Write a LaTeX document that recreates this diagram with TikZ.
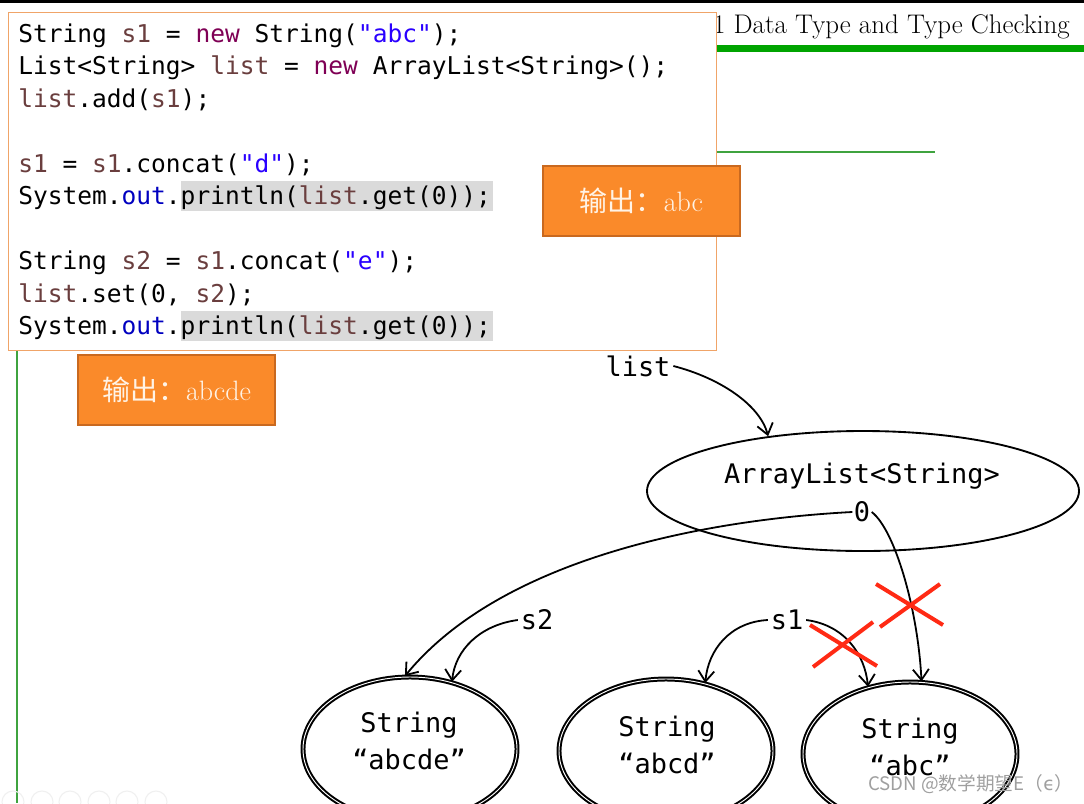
\documentclass[tikz,border=0pt]{standalone}
\usepackage{fontspec}
\usetikzlibrary{shapes.geometric,arrows.meta}
\newfontfamily\codefont{DejaVu Sans Mono}
\newfontfamily\cjk{Noto Sans CJK SC}
\newfontfamily\dvsans{DejaVu Sans}
\definecolor{varc}{HTML}{6A3E3E}
\definecolor{kwc}{HTML}{7F0055}
\definecolor{strc}{HTML}{2A00FF}
\definecolor{outc}{HTML}{0000C0}
\definecolor{hlc}{HTML}{DADADA}
\definecolor{boxorange}{HTML}{F0A468}
\definecolor{orfill}{HTML}{FA8A2A}
\definecolor{ordraw}{HTML}{C9691F}
\definecolor{ortext}{HTML}{FFF3E6}
\definecolor{slidegreen}{HTML}{00A400}
\definecolor{thingreen}{HTML}{3FA33F}
\definecolor{xred}{HTML}{FF2A14}
\newcommand{\cvar}[1]{\textcolor{varc}{#1}}
\newcommand{\ckw}[1]{\textcolor{kwc}{#1}}
\newcommand{\cstr}[1]{\textcolor{strc}{#1}}
\newcommand{\cout}[1]{\textcolor{outc}{#1}}
\tikzset{
  codeline/.style={anchor=base west, inner sep=0pt, font=\codefont\fontsize{18.4}{22}\selectfont},
  outbox/.style={draw=ordraw, fill=orfill, line width=0.9pt, minimum width=147.75pt, minimum height=52.5pt, inner sep=0pt, text=ortext, font=\fontsize{21}{24}\selectfont},
  dlabel/.style={inner sep=2pt, font=\codefont\fontsize{20.2}{24}\selectfont},
  strobj/.style={ellipse, draw, double=white, line width=1.5pt, double distance=0.7pt, minimum width=160.5pt, minimum height=108pt, inner sep=0pt},
  objtext/.style={align=center, inner sep=0pt, font=\codefont\fontsize{20.2}{27.5}\selectfont},
  arr/.style={-{Straight Barb[length=8pt,width=12pt]}, line width=1.35pt},
  redx/.style={xred, line width=3pt}
}
\begin{document}
\begin{tikzpicture}[x=0.75pt,y=-0.75pt]
\useasboundingbox (0,0) rectangle (1084,803);
\clip (0,0) rectangle (1084,803);
\fill[white] (0,0) rectangle (1084,803);
% slide background
\fill[black] (0,0) rectangle (1084,3);
\draw[slidegreen, line width=5.25pt] (300,48) -- (1084,48);
\draw[thingreen, line width=1.4pt] (17,152) -- (935,152);
\draw[thingreen, line width=1.8pt] (17,60) -- (17,803);
\node[anchor=base east, inner sep=0pt, text=black, font=\fontsize{20.2}{24}\selectfont] (title) at (1070,33) {3.1 Data Type and Type Checking};
\foreach \cx in {13,42,70,99,127,156}{\draw[gray!12, line width=0.8pt] (\cx,802) circle[radius=11];}
% code box
\node[draw=boxorange, fill=white, line width=1.1pt, minimum width=531pt, minimum height=253.5pt, anchor=north west, inner sep=0pt] (codebox) at (8,12) {};
\fill[hlc] (181,181) rectangle (493,211);
\fill[hlc] (181,311) rectangle (493,341);
\node[codeline] (c1) at (18,42) {String \cvar{s1} = \ckw{new} String(\cstr{"abc"});};
\node[codeline] (c2) at (18,74.5) {List<String> \cvar{list} = \ckw{new} ArrayList<String>();};
\node[codeline] (c3) at (18,107) {\cvar{list}.add(\cvar{s1});};
\node[codeline] (c4) at (18,172) {\cvar{s1} = \cvar{s1}.concat(\cstr{"d"});};
\node[codeline] (c5) at (18,204.5) {System.\cout{out}.println(\cvar{list}.get(0));};
\node[codeline] (c6) at (18,269.5) {String \cvar{s2} = \cvar{s1}.concat(\cstr{"e"});};
\node[codeline] (c7) at (18,302) {\cvar{list}.set(0, \cvar{s2});};
\node[codeline] (c8) at (18,334.5) {System.\cout{out}.println(\cvar{list}.get(0));};
% output boxes
\node[outbox] (out1) at (641.5,201) {{\cjk 输出：}abc};
\node[outbox] (out2) at (176.5,390) {{\cjk 输出：}abcde};
% diagram
\node[ellipse, draw, line width=1.4pt, minimum width=324pt, minimum height=90pt, inner sep=0pt] (al) at (863,491) {};
\node[dlabel] (altxt) at (862,476) {ArrayList<String>};
\node[dlabel, inner sep=1pt] (zero) at (862,512) {0};
\node[dlabel] (listlbl) at (638,366) {list};
\node[dlabel] (s2) at (537,620) {s2};
\node[dlabel] (s1) at (787,620) {s1};
\node[strobj] (abcde) at (410,749) {};
\node[strobj] (abcd) at (666,751) {};
\node[strobj] (abc) at (910,754) {};
\node[objtext] (t1) at (409,741) {String\\“abcde”};
\node[objtext] (t2) at (667,745) {String\\“abcd”};
\node[objtext] (t3) at (910,747) {String\\“abc”};
\draw[arr] (listlbl.east) .. controls (720,378) and (760,405) .. (al.150.6);
\draw[arr] (zero.west) .. controls (700,520) and (500,560) .. (abcde.94);
\draw[arr] (zero.east) .. controls (895,530) and (918,610) .. (abc.81);
\draw[arr] (s2.west) .. controls (480,625) and (455,650) .. (abcde.58);
\draw[arr] (s1.west) .. controls (730,622) and (708,650) .. (abcd.60);
\draw[arr] (s1.east) .. controls (845,625) and (865,655) .. (abc.122);
% red crosses
\draw[redx] (876,584) -- (943,625);
\draw[redx] (880,627) -- (940,584);
\draw[redx] (810,625) -- (877,666);
\draw[redx] (813,667) -- (873,622);
% watermark
\node[anchor=base west, inner sep=0pt, text=gray!75, font=\cjk\fontsize{14}{16}\selectfont] (wm) at (868,790) {CSDN @数学期望E（{\dvsans ϵ}）};
\end{tikzpicture}
\end{document}
